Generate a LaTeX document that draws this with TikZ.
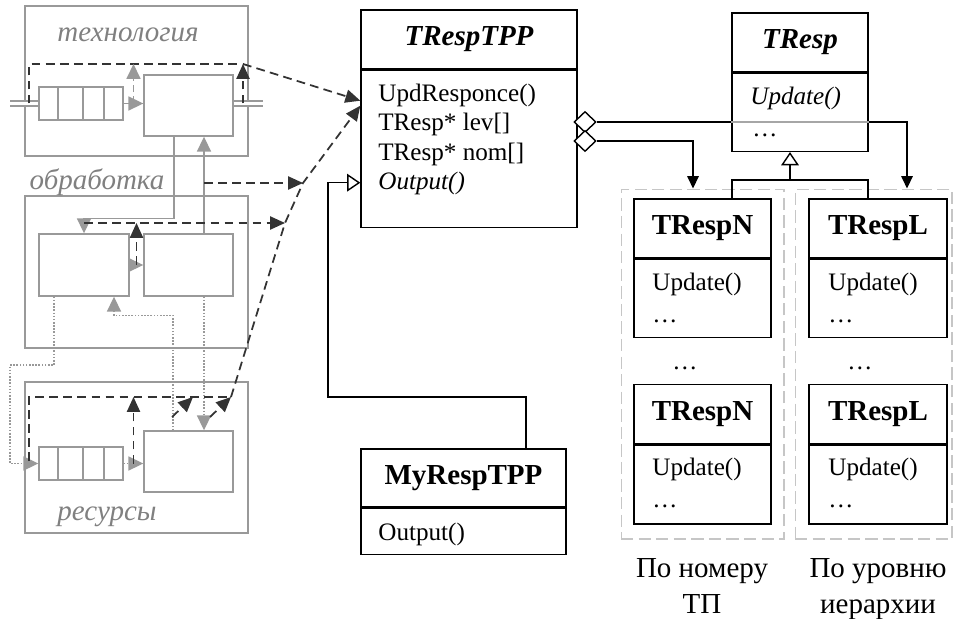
\documentclass[tikz,border=0pt]{standalone}
\usepackage{fontspec}
\setmainfont{Liberation Serif}
\usepackage{xcolor}
\usetikzlibrary{shapes.geometric, arrows.meta, positioning, calc}
\definecolor{lgray}{gray}{0.6}
\definecolor{dgray}{gray}{0.2}
\newcommand\bodyfont{\fontsize{14.3}{17}\selectfont}
\newcommand\bigfont{\fontsize{16.5}{19}\selectfont}

\begin{document}
\begin{tikzpicture}[
    x=0.02cm, y=-0.02cm,
    every node/.style={font=\bodyfont, inner sep=0pt},
    grp/.style={rectangle, draw=lgray, line width=0.8pt, minimum width=4.46cm},
    gbox/.style={rectangle, draw=lgray, fill=white, line width=0.8pt},
    gtxt/.style={anchor=base, text=gray, font=\bigfont\itshape},
    pipe/.style={draw=lgray, line width=0.7pt, double=white, double distance=2.2pt},
    garr/.style={lgray, line width=0.8pt, -{Triangle[length=8.5pt, width=8pt]}},
    gdot/.style={garr, dash pattern=on 0.9pt off 0.9pt},
    gdash/.style={garr, dash pattern=on 4pt off 2.5pt},
    dline/.style={dgray, line width=1pt, dash pattern=on 5pt off 3pt},
    darr/.style={dline, -{Triangle[length=8.5pt, width=7.5pt]}},
    cls/.style={rectangle, draw, fill=white, line width=0.8pt},
    hdr/.style={cls, minimum height=1.18cm, font=\bigfont\bfseries},
    mem/.style={anchor=base west},
    lbl/.style={anchor=base, font=\bigfont},
    grpdash/.style={rectangle, draw=gray!45, line width=0.6pt, dash pattern=on 7pt off 3pt, minimum height=7cm},
    arrow/.style={line width=0.8pt, -{Triangle[length=7pt, width=6.5pt]}},
    inh/.style={line width=0.8pt, -{Triangle[open, length=7.5pt, width=10pt, fill=white]}},
    agg/.style={diamond, draw, fill=white, line width=0.8pt, minimum width=0.44cm, minimum height=0.42cm}
]
\useasboundingbox (0,0) rectangle (955,618);

% left: process scheme
\node[grp, minimum height=3cm] (tech) at (136.5,81) {};
\node[grp, minimum height=3.04cm] (proc) at (136.5,272) {};
\node[grp, minimum height=3.02cm] (res) at (136.5,457.5) {};
\node[gtxt] (techl) at (128,42) {технология};
\node[gtxt] (procl) at (97,189) {обработка};
\node[gtxt] (resl) at (107,520) {ресурсы};

\node[gbox, minimum width=1.68cm, minimum height=0.66cm] (q1) at (81,103.5) {};
\node[gbox, minimum width=1.78cm, minimum height=1.22cm] (tbox) at (188.5,105.5) {};
\node[gbox, minimum width=1.8cm, minimum height=1.24cm] (pl) at (84,265) {};
\node[gbox, minimum width=1.78cm, minimum height=1.24cm] (pr) at (188.5,265) {};
\node[gbox, minimum width=1.68cm, minimum height=0.66cm] (q2) at (81,463.5) {};
\node[gbox, minimum width=1.78cm, minimum height=1.22cm] (rbox) at (188.5,461.5) {};
\foreach \d in {58,83,104} {
  \draw[lgray, line width=0.8pt] (q1.north -| \d,0) -- (q1.south -| \d,0);
  \draw[lgray, line width=0.8pt] (q2.north -| \d,0) -- (q2.south -| \d,0);
}

\coordinate (tin) at (10,103.5);
\coordinate (tout) at (263,103.5);
\draw[pipe] (tin) -- (q1.west);
\draw[pipe] (tbox.east |- q1.east) -- (tout);

\draw[garr] (q1.east) -- (tbox.west |- q1.east);
\draw[garr] (tbox.south -| 174,0) -- ++(0,82) -| (pl.north);
\draw[garr] (pr.north -| 204,0) -- (tbox.south -| 204,0);
\draw[garr] (pl) -- (pr);
\draw[gdot] (pl.south -| 54,0) |- (10,365) |- (q2.west);
\draw[gdot] (q2.east) -- (rbox.west |- q2.east);
\draw[gdot] (rbox.north -| 173,0) -- ++(0,-115) -| (pl.south -| 114,0);
\draw[gdot] (pr.south -| 204,0) -- (rbox.north -| 204,0);

\coordinate (t0) at (29,103.5);
\coordinate (t1) at (243,64);
\coordinate (d1) at (303,183);
\coordinate (d2) at (285,223);
\coordinate (d0) at (231,397);
\coordinate (r0) at (29,461);
\coordinate (s1) at (172,417);
\coordinate (s2) at (210,417);
\coordinate (tg) at ($(q1.east)!.5!(tbox.west |- q1.east)$);
\coordinate (pm) at ($(pl.east)!.5!(pr.west)$);
\coordinate (rg) at ($(q2.east)!.5!(rbox.west |- q2.east)$);

% right: classes
\node[grpdash, minimum width=3.26cm] (grpN) at (702.5,364) {};
\node[grpdash, minimum width=3.14cm] (grpL) at (873.5,364) {};

\node[hdr, minimum width=4.32cm] (tpp) at (469,39.5) {\itshape TRespTPP};
\node[cls, minimum width=4.32cm, minimum height=3.14cm, below=0pt of tpp] (tppb) {};
\node[mem] (tpp1) at (378,102) {UpdResponce()};
\node[mem] (tpp2) at (378,131) {TResp* lev[]};
\node[mem] (tpp3) at (378,160) {TResp* nom[]};
\node[mem] (tpp4) at (378,189) {\itshape Output()};

\draw[dline] (t0) |- (t1);
\draw[gdash] (tg) -- (tg |- t1);
\draw[darr] (t1 |- q1.east) -- (t1);
\draw[darr] (t1) -- ($(tppb.north west)+(0,31)$);
\draw[darr] (pl.north |- d2) -- (d2);
\draw[darr] (pm) -- (pm |- d2);
\draw[darr] (d1 -| 204,0) -- (d1);
\draw[dline] (r0) |- (d0);
\draw[darr] (rg) -- (rg |- d0);
\draw[darr] (s1) -- ++(21,-20);
\draw[darr] (s2) -- (d0);
\draw[darr] (d0) -- (d2) -- (d1) -- ($(tppb.north west)+(0,36)$);

\node[agg] (ag1) at (585,122) {};
\node[agg] (ag2) at (585,141) {};
\draw[arrow] (ag1.east) -| (grpL.north -| 907,0);
\draw[arrow] (ag2.east) -| (grpN.north -| 693,0);

\node[hdr, minimum width=2.72cm] (resp) at (800,42.5) {\itshape TResp};
\node[cls, minimum width=2.72cm, minimum height=1.56cm, below=0pt of resp] (respb) {};
\draw[gray!70, line width=0.6pt] (respb.west |- ag1) -- (respb.east |- ag1);
\node[mem] (resp1) at (750,105) {\itshape Update()};
\node[mem] (resp2) at (752,137) {\dots};

\node[hdr, minimum width=2.74cm] (n1) at (702.5,228.5) {TRespN};
\node[cls, minimum width=2.74cm, minimum height=1.56cm, below=0pt of n1] (n1b) {};
\node[mem] (n1m1) at (652,290) {Update()};
\node[mem] (n1m2) at (652,322) {\dots};
\node[anchor=base] (ndots) at (685,369) {\dots};
\node[hdr, minimum width=2.74cm] (n2) at (702.5,414) {TRespN};
\node[cls, minimum width=2.74cm, minimum height=1.58cm, below=0pt of n2] (n2b) {};
\node[mem] (n2m1) at (652,475) {Update()};
\node[mem] (n2m2) at (652,507) {\dots};

\node[hdr, minimum width=2.76cm] (l1) at (878,228.5) {TRespL};
\node[cls, minimum width=2.76cm, minimum height=1.56cm, below=0pt of l1] (l1b) {};
\node[mem] (l1m1) at (828,290) {Update()};
\node[mem] (l1m2) at (828,322) {\dots};
\node[anchor=base] (ldots) at (860,369) {\dots};
\node[hdr, minimum width=2.76cm] (l2) at (878,414) {TRespL};
\node[cls, minimum width=2.76cm, minimum height=1.58cm, below=0pt of l2] (l2b) {};
\node[mem] (l2m1) at (828,475) {Update()};
\node[mem] (l2m2) at (828,507) {\dots};

\coordinate (jn) at (790,180);
\draw[line width=0.8pt] (n1.north -| 732,0) |- (jn) -| (l1.north -| 868,0);
\draw[inh] (jn) -- (jn |- respb.south);

\node[hdr, minimum width=4.1cm, minimum height=1.16cm] (my) at (463.5,478) {MyRespTPP};
\node[cls, minimum width=4.1cm, minimum height=0.92cm, below=0pt of my] (myb) {};
\node[mem] (my1) at (378,540) {Output()};
\coordinate (bend) at (328,397);
\draw[inh] (my.north -| 526,0) |- (bend) |- ($(tppb.north west)+(0,113)$);

\node[lbl] (lbn1) at (702,577) {По номеру};
\node[lbl] (lbn2) at (702,613) {ТП};
\node[lbl] (lbl1) at (878,577) {По уровню};
\node[lbl] (lbl2) at (878,613) {иерархии};
\end{tikzpicture}
\end{document}
